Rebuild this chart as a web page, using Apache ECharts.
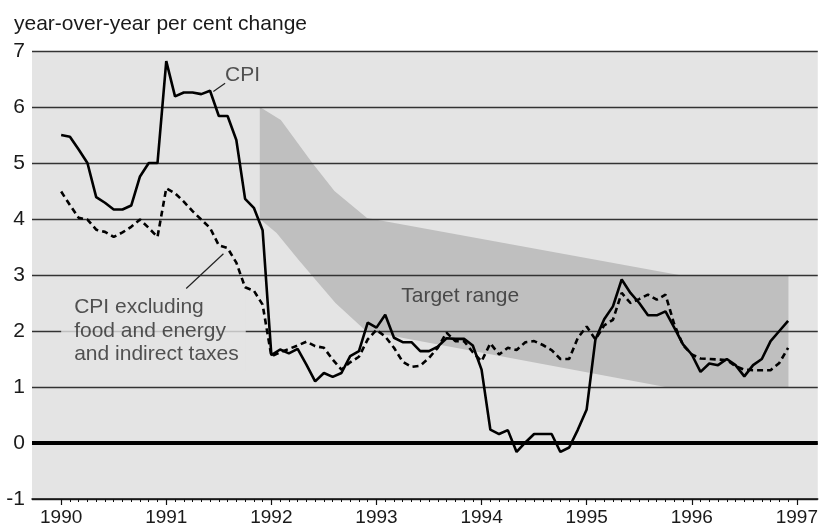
<!DOCTYPE html>
<html>
<head>
<meta charset="utf-8">
<script src="https://cdn.jsdelivr.net/npm/echarts@6/dist/echarts.min.js"></script>
<style>html,body{margin:0;padding:0;background:#fff}#c{width:821px;height:527px}</style>
</head>
<body>
<div id="c"></div>
<script>
// ---- data ----
const yearLabels = ['1990','1991','1992','1993','1994','1995','1996','1997'];
const yTicks = [-1,0,1,2,3,4,5,6,7];
// monthly CPI, Jan 1990 - Dec 1996
const cpi = [
  5.50,5.47,5.24,5.00,4.39,4.29,4.17,4.17,4.24,4.76,5.00,5.00,
  6.82,6.19,6.26,6.26,6.23,6.29,5.84,5.84,5.41,4.36,4.20,3.80,
  1.57,1.67,1.60,1.68,1.40,1.10,1.25,1.18,1.25,1.55,1.64,2.15,
  2.06,2.29,1.88,1.80,1.80,1.64,1.64,1.72,1.87,1.86,1.86,1.74,
  1.31,0.24,0.16,0.23,-0.16,0.01,0.16,0.16,0.16,-0.16,-0.08,0.24,
  0.60,1.85,2.21,2.44,2.92,2.68,2.50,2.28,2.28,2.35,2.06,1.76,
  1.58,1.27,1.42,1.39,1.50,1.39,1.19,1.39,1.50,1.82,2.00,2.18
];
// CPI excluding food and energy and indirect taxes
const cpiCore = [
  4.49,4.25,4.02,3.99,3.81,3.77,3.68,3.76,3.86,3.99,3.84,3.68,
  4.55,4.46,4.31,4.14,3.99,3.84,3.53,3.48,3.22,2.78,2.72,2.47,
  1.55,1.62,1.68,1.74,1.81,1.73,1.70,1.49,1.31,1.44,1.54,1.85,
  2.02,1.90,1.70,1.45,1.36,1.38,1.52,1.70,1.97,1.82,1.82,1.62,
  1.46,1.78,1.58,1.70,1.66,1.80,1.82,1.75,1.66,1.50,1.50,1.88,
  2.08,1.85,2.10,2.20,2.68,2.50,2.57,2.65,2.56,2.65,2.12,1.75,
  1.58,1.51,1.50,1.49,1.48,1.37,1.31,1.30,1.30,1.30,1.43,1.70
];
// target range band edges
const bandUpperX = [1991.89,1992.09,1992.39,1992.60,1992.91,1995.88,1996.92];
const bandUpperY = [6.00,5.77,5.00,4.50,4.02,3.00,3.00];
const bandLowerX = [1991.89,1992.05,1992.26,1992.39,1992.61,1992.90,1995.75,1996.92];
const bandLowerY = [4.00,3.75,3.27,2.98,2.50,2.00,1.00,1.00];

// annotations (data coordinates)
const labelCPI = {x:1991.56, y:6.56, text:'CPI'};
const leaderCPI = [[1991.448,6.276],[1991.56,6.425]];
const labelCore = {x:1990.0, y:2.0, text:'CPI excluding\nfood and energy\nand indirect taxes'};
const leaderCore = [[1991.19,2.76],[1991.544,3.38]];
const labelTarget = {x:1993.236, y:2.62, text:'Target range'};

const monthX = cpi.map((_, i) => 1990 + i / 12);
const monthTicks = Array.from({length: 7*12+1}, (_, i) => 1990 + i / 12);
const yearVals = yearLabels.map(Number);

const FONT = '"Liberation Sans", Arial, Helvetica, sans-serif';
const BG = '#e4e4e4';

const chart = echarts.init(document.getElementById('c'), null, {renderer: 'canvas'});
chart.setOption({
  animation: false,
  backgroundColor: '#fff',
  title: {
    text: 'year-over-year per cent change',
    left: 9, top: 9,
    textStyle: {fontFamily: FONT, fontSize: 21, fontWeight: 'normal', color: '#1a1a1a'}
  },
  grid: {left: 32, right: 0, top: 51, bottom: 27.7, show: true, backgroundColor: BG, borderWidth: 0, z: 0},
  xAxis: [{
    type: 'value', min: 1989.7225, max: 1997.199, z: 3,
    axisLine: {onZero: false, lineStyle: {color: '#111', width: 1.5}},
    axisTick: {show: true, length: 6, lineStyle: {color: '#111', width: 1.2}, customValues: yearVals},
    axisLabel: {customValues: yearVals, formatter: v => String(Math.round(v)), fontFamily: FONT, fontSize: 19, color: '#1a1a1a', margin: 9},
    splitLine: {show: false}
  }, {
    type: 'value', min: 1989.7225, max: 1997.199, position: 'bottom', offset: 0, z: 3,
    axisLine: {show: false, onZero: false},
    axisTick: {show: true, length: 3, lineStyle: {color: '#111', width: 1}, customValues: monthTicks},
    axisLabel: {show: false},
    splitLine: {show: false}
  }],
  yAxis: {
    type: 'value', min: -1, max: 7, interval: 1, z: 2,
    axisLine: {show: false}, axisTick: {show: false},
    axisLabel: {fontFamily: FONT, fontSize: 21, color: '#1a1a1a', margin: 7},
    splitLine: {lineStyle: {color: '#333', width: 1.3}}
  },
  series: [
    {
      type: 'custom', name: 'band', z: 1, silent: true,
      data: [[bandUpperX[0], bandUpperY[0]]],
      renderItem: (params, api) => {
        const pts = [];
        bandUpperX.forEach((x, i) => pts.push(api.coord([x, bandUpperY[i]])));
        for (let i = bandLowerX.length - 1; i >= 0; i--) pts.push(api.coord([bandLowerX[i], bandLowerY[i]]));
        return {type: 'polygon', shape: {points: pts}, style: {fill: '#bfbfbf'}};
      }
    },
    {
      type: 'line', name: 'CPI excluding', z: 4, showSymbol: false, symbol: 'none',
      data: monthX.map((x, i) => [x, cpiCore[i]]),
      lineStyle: {color: '#000', width: 2.6, type: [6, 4]}
    },
    {
      type: 'line', name: 'CPI', z: 5, showSymbol: false, symbol: 'none',
      data: monthX.map((x, i) => [x, cpi[i]]),
      lineStyle: {color: '#000', width: 2.6},
      markLine: {
        silent: true, symbol: ['none', 'none'], label: {show: false},
        lineStyle: {color: '#000', width: 4, type: 'solid'},
        data: [{yAxis: 0}]
      }
    },
    {
      type: 'line', z: 5, showSymbol: false, symbol: 'none', silent: true,
      data: leaderCPI, lineStyle: {color: '#222', width: 1.2}
    },
    {
      type: 'line', z: 5, showSymbol: false, symbol: 'none', silent: true,
      data: leaderCore, lineStyle: {color: '#222', width: 1.2}
    },
    {
      type: 'scatter', z: 6, symbolSize: 0, silent: true,
      data: [
        {value: [labelCPI.x, labelCPI.y], label: {formatter: labelCPI.text}},
        {value: [labelCore.x, labelCore.y], label: {formatter: labelCore.text, backgroundColor: BG, padding: [4, 7, 4, 13], lineHeight: 23.5}},
        {value: [labelTarget.x, labelTarget.y], label: {formatter: labelTarget.text}}
      ],
      label: {show: true, position: 'right', distance: 0, fontFamily: FONT, fontSize: 21, color: '#2a2a2a'}
    }
  ]
});
</script>
</body>
</html>
